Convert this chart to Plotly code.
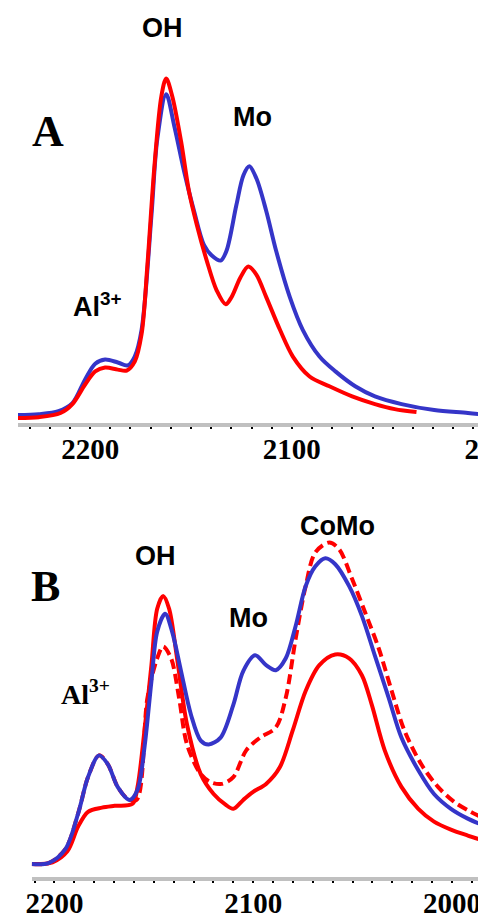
import plotly.graph_objects as go

# The page body has an 8px default margin; the figure is drawn a bit wider than
# the window so the right edge is clipped like in the reference.
OFF = 8
W, H = 530, 914

# ---------- Panel A data (wavenumber cm-1, intensity a.u.) ----------
a_blue_x = [2235.8, 2225.5, 2215.7, 2208.8, 2202.5, 2197.5, 2192.6, 2186.3, 2181.4, 2177.9,
            2174.5, 2169.6, 2166.7, 2162.3, 2158.3, 2153.4, 2148.5, 2143.6, 2139.7, 2135.3,
            2132.4, 2127.5, 2124.0, 2121.1, 2117.6, 2112.7, 2107.8, 2101.0, 2094.6, 2086.3,
            2078.4, 2068.6, 2058.8, 2045.6, 2029.4, 2012.7, 2003.4]
a_blue_y = [0.020, 0.023, 0.033, 0.060, 0.140, 0.193, 0.207, 0.197, 0.187, 0.217,
            0.307, 0.693, 0.950, 1.100, 0.993, 0.840, 0.707, 0.593, 0.557, 0.540,
            0.573, 0.727, 0.827, 0.857, 0.817, 0.707, 0.573, 0.417, 0.307, 0.217,
            0.167, 0.117, 0.083, 0.057, 0.037, 0.027, 0.020]

a_red_x = [2235.8, 2225.5, 2214.7, 2208.8, 2202.5, 2197.5, 2192.6, 2186.3, 2181.9, 2177.9,
           2174.5, 2171.6, 2168.1, 2164.7, 2162.3, 2159.3, 2154.9, 2151.0, 2147.1, 2142.2,
           2137.3, 2132.8, 2129.9, 2125.5, 2121.6, 2117.6, 2112.7, 2105.9, 2099.5, 2091.2,
           2081.4, 2070.1, 2058.8, 2049.0, 2038.2]
a_red_y = [0.010, 0.013, 0.027, 0.057, 0.123, 0.167, 0.180, 0.173, 0.170, 0.200,
           0.293, 0.527, 0.860, 1.093, 1.153, 1.093, 0.940, 0.773, 0.660, 0.540,
           0.440, 0.393, 0.417, 0.483, 0.520, 0.493, 0.417, 0.307, 0.217, 0.150,
           0.117, 0.083, 0.057, 0.040, 0.030]

# ---------- Panel B data ----------
b_blue_x = [2211.4, 2203.0, 2194.5, 2188.1, 2183.1, 2177.6, 2173.1, 2168.2, 2162.2, 2158.2,
            2154.7, 2151.2, 2148.3, 2144.3, 2140.8, 2136.3, 2131.3, 2126.4, 2122.4, 2116.4,
            2110.0, 2105.0, 2099.0, 2093.5, 2088.6, 2083.6, 2078.6, 2073.6, 2068.7, 2063.7,
            2058.7, 2051.7, 2045.3, 2038.8, 2031.8, 2025.4, 2016.9, 2009.0, 2000.5, 1992.0,
            1982.6]
b_blue_y = [0.037, 0.040, 0.087, 0.207, 0.330, 0.403, 0.373, 0.297, 0.253, 0.287,
            0.430, 0.653, 0.820, 0.880, 0.820, 0.687, 0.540, 0.453, 0.440, 0.463,
            0.573, 0.687, 0.740, 0.707, 0.690, 0.730, 0.840, 0.973, 1.040, 1.067,
            1.047, 0.973, 0.873, 0.740, 0.597, 0.463, 0.353, 0.273, 0.223, 0.190,
            0.163]

b_red_x = [2211.4, 2201.0, 2193.5, 2188.1, 2183.1, 2176.1, 2169.7, 2160.7, 2158.2, 2154.7,
           2151.2, 2148.3, 2145.3, 2142.3, 2138.3, 2133.3, 2126.4, 2119.9, 2113.9, 2110.0,
           2105.0, 2100.0, 2093.5, 2086.6, 2080.1, 2073.6, 2066.7, 2058.7, 2051.7, 2045.3,
           2040.3, 2033.8, 2025.4, 2016.9, 2009.0, 2000.5, 1992.0, 1982.6]
b_red_y = [0.037, 0.043, 0.080, 0.163, 0.213, 0.227, 0.233, 0.240, 0.297, 0.487,
           0.707, 0.897, 0.940, 0.897, 0.730, 0.507, 0.340, 0.273, 0.237, 0.223,
           0.253, 0.280, 0.307, 0.363, 0.487, 0.620, 0.707, 0.743, 0.730, 0.673,
           0.573, 0.420, 0.297, 0.223, 0.180, 0.153, 0.133, 0.113]

b_reddash_x = [2211.4, 2203.0, 2194.5, 2188.1, 2183.1, 2177.6, 2173.1, 2168.2, 2163.2, 2158.7,
               2153.2, 2148.3, 2145.3, 2141.3, 2137.3, 2133.3, 2126.4, 2121.4, 2115.9, 2110.0,
               2103.5, 2096.5, 2088.6, 2083.6, 2078.6, 2073.6, 2068.7, 2061.7, 2056.7, 2050.2,
               2043.8, 2036.8, 2030.3, 2023.9, 2015.4, 2007.0, 1999.0, 1990.5, 1982.6]
b_reddash_y = [0.037, 0.040, 0.087, 0.207, 0.330, 0.403, 0.373, 0.297, 0.257, 0.253,
               0.597, 0.730, 0.770, 0.730, 0.597, 0.440, 0.340, 0.313, 0.307, 0.330,
               0.420, 0.463, 0.497, 0.597, 0.797, 0.973, 1.087, 1.120, 1.097, 0.997,
               0.887, 0.763, 0.620, 0.487, 0.373, 0.297, 0.247, 0.213, 0.187]

tick_vals = [2200, 2100, 2000]
tick_text = ["2200", "2100", "2000"]

BLUE = "#3535c8"
RED = "#ff0000"
LW = 4

fig = go.Figure()
fig.add_trace(go.Scatter(x=a_blue_x, y=a_blue_y, mode="lines", xaxis="x", yaxis="y",
                         line=dict(color=BLUE, width=LW, shape="spline", smoothing=0.9)))
fig.add_trace(go.Scatter(x=a_red_x, y=a_red_y, mode="lines", xaxis="x", yaxis="y",
                         line=dict(color=RED, width=LW, shape="spline", smoothing=0.9)))
fig.add_trace(go.Scatter(x=b_reddash_x, y=b_reddash_y, mode="lines", xaxis="x2", yaxis="y2",
                         line=dict(color=RED, width=LW, dash="10px,5px", shape="spline", smoothing=0.9)))
fig.add_trace(go.Scatter(x=b_red_x, y=b_red_y, mode="lines", xaxis="x2", yaxis="y2",
                         line=dict(color=RED, width=LW, shape="spline", smoothing=0.9)))
fig.add_trace(go.Scatter(x=b_blue_x, y=b_blue_y, mode="lines", xaxis="x2", yaxis="y2",
                         line=dict(color=BLUE, width=LW, shape="spline", smoothing=0.9)))

tickfont = dict(family="Liberation Serif", size=29, color="black", weight="bold")
xcommon = dict(showgrid=False, zeroline=False, showline=True, linecolor="#c0c0c0", linewidth=4,
               ticks="outside", ticklen=2, tickwidth=2, tickcolor="black",
               tickvals=tick_vals, ticktext=tick_text, tickfont=tickfont,
               ticklabelstandoff=-5,
               minor=dict(dtick=10, ticks="outside", ticklen=2, tickwidth=2, tickcolor="black"))

# pixel geometry (figure coordinates = reference pixels - OFF)
A_X0 = 12 - OFF           # left end of panel A axis
A_LINE = 425 - OFF        # panel A axis line
B_X0 = 26 - OFF
B_LINE = 879 - OFF
B_TOP = 500 - OFF
PXU_A = 2.04              # px per cm-1
PXU_B = 2.01
SCALE = 300.0             # px per intensity unit

a_x_lo = 2235.8 - (W - A_X0) / PXU_A
b_x_lo = 2211.4 - (W - B_X0) / PXU_B

fig.update_layout(
    width=W, height=H, margin=dict(l=0, r=0, t=0, b=0),
    paper_bgcolor="white", plot_bgcolor="white", showlegend=False,
    xaxis=dict(domain=[A_X0 / W, 1], range=[2235.8, a_x_lo], anchor="y", **xcommon),
    yaxis=dict(domain=[1 - (A_LINE - 2) / H, 1], range=[-2 / SCALE, A_LINE / SCALE],
               visible=False, anchor="x"),
    xaxis2=dict(domain=[B_X0 / W, 1], range=[2211.4, b_x_lo], anchor="y2", **xcommon),
    yaxis2=dict(domain=[1 - (B_LINE - 2) / H, 1 - B_TOP / H],
                range=[-2 / SCALE, (B_LINE - B_TOP) / SCALE], visible=False, anchor="x2"),
)

sans = dict(family="Liberation Sans", size=27, color="black", weight="bold")
serif_big = dict(family="Liberation Serif", size=44, color="black", weight="bold")
serif_lbl = dict(family="Liberation Serif", size=28, color="black", weight="bold")


def ann(text, px, py, font):
    fig.add_annotation(text=text, x=(px - OFF) / W, y=1 - (py - OFF) / H,
                       xref="paper", yref="paper", showarrow=False, font=font,
                       xanchor="center", yanchor="middle")


ann("OH", 158, 28, sans)
ann("Mo", 249, 117, sans)
ann("A", 42, 132, serif_big)
ann("Al<sup>3+</sup>", 92, 305, sans)

ann("B", 40, 586, serif_big)
ann("OH", 151, 556, sans)
ann("Mo", 245, 618, sans)
ann("CoMo", 335, 526, sans)
ann("Al<sup>3+</sup>", 80, 692, serif_lbl)

fig.write_html("out.html")
